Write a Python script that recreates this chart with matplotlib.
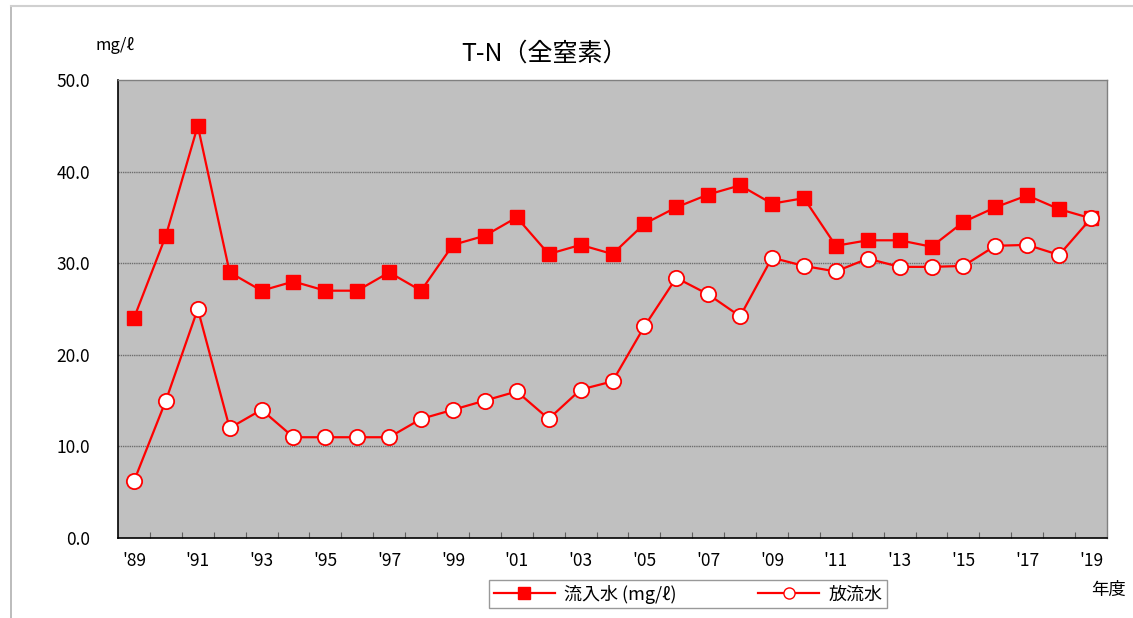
import numpy as np
import matplotlib.pyplot as plt
from matplotlib.lines import Line2D

plt.rcParams['font.family'] = ['Noto Sans CJK JP', 'DejaVu Sans']

# データ
years = list(range(1989, 2020))
year_labels = ["'" + str(y)[2:] for y in years]
inflow = [24.0, 33.0, 45.0, 29.0, 27.0, 28.0, 27.0, 27.0, 29.0, 27.0,
          32.0, 33.0, 35.0, 31.0, 32.0, 31.0, 34.3, 36.1, 37.5, 38.5,
          36.5, 37.1, 31.9, 32.5, 32.5, 31.8, 34.5, 36.1, 37.4, 35.9, 34.9]
outflow = [6.2, 15.0, 25.0, 12.0, 14.0, 11.0, 11.0, 11.0, 11.0, 13.0,
           14.0, 15.0, 16.0, 13.0, 16.2, 17.1, 23.1, 28.4, 26.6, 24.2,
           30.6, 29.7, 29.1, 30.5, 29.6, 29.6, 29.7, 31.9, 32.0, 30.9, 34.9]

W, H = 1133, 618
fig = plt.figure(figsize=(W / 100, H / 100), dpi=100)
ax = fig.add_axes([118 / W, 1 - 538 / H, (1107 - 118) / W, (538 - 80) / H])
ax.set_facecolor('#c0c0c0')

x = np.arange(len(years))
red = '#ff0000'
ax.plot(x, inflow, color=red, lw=1.6, marker='s', ms=10,
        mfc=red, mec=red, zorder=3)
ax.plot(x, outflow, color=red, lw=1.6, marker='o', ms=11,
        mfc='white', mec=red, mew=1.3, zorder=3)

ax.set_xlim(-0.5, len(years) - 0.5)
ax.set_ylim(0, 50)

# Y軸
ax.set_yticks([0, 10, 20, 30, 40, 50])
ax.set_yticklabels([f'{v:.1f}' for v in [0, 10, 20, 30, 40, 50]], fontsize=12.5)
ax.tick_params(axis='y', length=0, pad=20)
for v in [10, 20, 30, 40]:
    ax.axhline(v, color='#6e6e6e', lw=1.0, ls=(0, (1, 0.6)), zorder=1)

# X軸（目盛りは区切り位置、ラベルは1年おき）
ax.set_xticks(x[:-1] + 0.5)
ax.set_xticklabels([])
ax.tick_params(axis='x', direction='in', length=4, color='#606060')
for i in range(0, len(years), 2):
    ax.text(x[i], -2.5, year_labels[i], ha='center', va='center',
            fontsize=12.5, transform=ax.transData)

for s in ['left', 'bottom']:
    ax.spines[s].set_color('black')
    ax.spines[s].set_linewidth(1.2)
for s in ['top', 'right']:
    ax.spines[s].set_color('#808080')
    ax.spines[s].set_linewidth(1.0)

# テキスト
fig.text(545 / W, 1 - 54 / H, 'T-N（全窒素）', ha='center', va='center', fontsize=18)
fig.text(115 / W, 1 - 45 / H, 'mg/ℓ', ha='center', va='center', fontsize=12)
fig.text(1108 / W, 1 - 590 / H, '年度', ha='center', va='center', fontsize=12.5)

# 外枠
fig.add_artist(Line2D([11 / W, 11 / W], [0, 1 - 6 / H], color='#b0b0b0', lw=1.2))
fig.add_artist(Line2D([11 / W, 1], [1 - 6 / H, 1 - 6 / H], color='#d0d0d0', lw=1.5))

# 凡例
handles = [
    Line2D([], [], color=red, lw=1.6, marker='s', ms=8, mfc=red, mec=red),
    Line2D([], [], color=red, lw=1.6, marker='o', ms=8, mfc='white', mec=red),
]
leg = fig.legend(handles, ['流入水 (mg/ℓ)', '放流水'], loc='center',
                 bbox_to_anchor=(688 / W, 1 - 594 / H), ncol=2, fontsize=13,
                 frameon=True, fancybox=False, edgecolor='#808080',
                 handlelength=3.4, columnspacing=4.5, borderpad=0.25,
                 handletextpad=0.5, borderaxespad=0)
leg.get_frame().set_linewidth(1.0)

fig.savefig('out.png', dpi=100, facecolor='white')
